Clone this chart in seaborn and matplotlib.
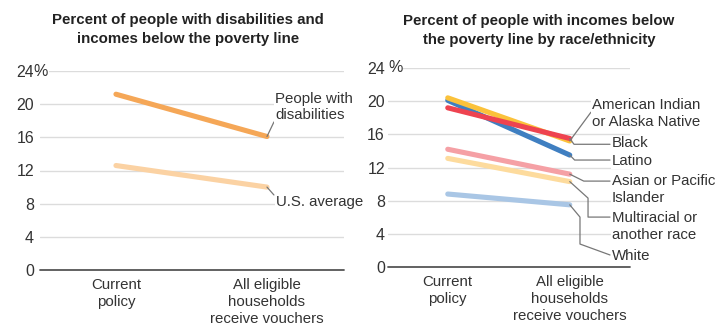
import matplotlib
matplotlib.use("Agg")
import matplotlib.pyplot as plt
import seaborn as sns
import pandas as pd

# ---- data ----
scenarios = ["Current\npolicy", "All eligible\nhouseholds\nreceive vouchers"]

left_groups = ["U.S. average", "People with disabilities"]
us_average = [12.6, 10.0]
disabilities = [21.2, 16.1]

right_groups = ["White", "Multiracial or another race", "Asian or Pacific Islander",
                "Latino", "American Indian or Alaska Native", "Black"]
white = [8.8, 7.5]
multiracial = [13.1, 10.3]
asian_pi = [14.2, 11.2]
latino = [20.1, 13.5]
american_indian = [20.4, 15.2]
black = [19.2, 15.5]

yticks = [0, 4, 8, 12, 16, 20, 24]

left_title = "Percent of people with disabilities and\nincomes below the poverty line"
right_title = "Percent of people with incomes below\nthe poverty line by race/ethnicity"

left_colors = {"U.S. average": "#fbd2a3", "People with disabilities": "#f5a757"}
right_colors = {"White": "#a9c6e5", "Multiracial or another race": "#fddb9d",
                "Asian or Pacific Islander": "#f5a0a5", "Latino": "#3f7fc1",
                "American Indian or Alaska Native": "#fbc23b", "Black": "#ee4350"}

left_series = {"U.S. average": us_average, "People with disabilities": disabilities}
right_series = {"White": white, "Multiracial or another race": multiracial,
                "Asian or Pacific Islander": asian_pi, "Latino": latino,
                "American Indian or Alaska Native": american_indian, "Black": black}


def long_df(series):
    rows = []
    for g, vals in series.items():
        for s, v in zip(scenarios, vals):
            rows.append({"scenario": s, "value": v, "group": g})
    return pd.DataFrame(rows)


sns.set_theme(style="white")
FONT = ["Liberation Sans", "DejaVu Sans"]
plt.rcParams["font.family"] = FONT
TXT = "#333333"
FS = 10.8      # labels
FT = 11.5      # tick labels

fig = plt.figure(figsize=(7.28, 3.30), dpi=100)
axL = fig.add_axes([40 / 728, 60 / 330, 304 / 728, 199 / 330])
axR = fig.add_axes([388 / 728, 63 / 330, 242 / 728, 199 / 330])


def style_axis(ax, xlim, ypad, pct_x):
    ax.set_xlim(*xlim)
    ax.set_ylim(0, 24)
    ax.set_yticks(yticks)
    ax.set_yticklabels([str(t) for t in yticks])
    for t in yticks[1:]:
        ax.axhline(t, color="#dcdcdc", lw=1.0, zorder=0)
    ax.axhline(0, color="#555555", lw=1.3, zorder=1, clip_on=False)
    for s in ax.spines.values():
        s.set_visible(False)
    ax.tick_params(axis="y", length=0, labelsize=FT, labelcolor=TXT, pad=ypad)
    ax.tick_params(axis="x", direction="in", length=4, width=1.2, color="#555555",
                   labelsize=FS, labelcolor=TXT, pad=5.5)
    ax.set_xlabel("")
    ax.set_ylabel("")
    ax.grid(False)
    for lab in ax.get_xticklabels():
        lab.set_linespacing(1.27)
        lab.set_verticalalignment("top")
    ax.text(pct_x, 24, "%", transform=ax.get_yaxis_transform(), ha="left",
            va="center", fontsize=FT, color=TXT, clip_on=False, zorder=5,
            bbox=dict(facecolor="white", edgecolor="none", pad=0.6))


# ---- left panel ----
dfL = long_df(left_series)
sns.lineplot(data=dfL, x="scenario", y="value", hue="group", hue_order=left_groups,
             palette=left_colors, linewidth=3.7, legend=False, ax=axL,
             solid_capstyle="round", sort=False)
style_axis(axL, (-0.503, 1.51), 4.3, -0.021)

lead = dict(color="#777777", lw=0.9, clip_on=False, zorder=3)
axL.plot([1.0, 1.046], [disabilities[1], 17.85], **lead)
axL.plot([1.0, 1.046], [us_average[1], 9.05], **lead)
lab_kw = dict(ha="left", va="center", fontsize=FS, color=TXT, linespacing=1.26,
              clip_on=False, zorder=4,
              bbox=dict(facecolor="white", edgecolor="none", pad=0.5))
axL.text(1.053, 19.66, "People with\ndisabilities", **lab_kw)
axL.text(1.06, 8.2, "U.S. average", **lab_kw)

# ---- right panel ----
dfR = long_df(right_series)
sns.lineplot(data=dfR, x="scenario", y="value", hue="group", hue_order=right_groups,
             palette=right_colors, linewidth=3.7, legend=False, ax=axR,
             solid_capstyle="round", sort=False)
style_axis(axR, (-0.49, 1.494), 2.2, 0.0)

axR.plot([1.0, 1.174], [american_indian[1], 18.67], **lead)
axR.plot([1.0, 1.035, 1.33], [black[1], 14.8, 14.8], **lead)
axR.plot([1.0, 1.04, 1.33], [latino[1], 12.9, 12.9], **lead)
axR.plot([1.0, 1.115, 1.33], [asian_pi[1], 10.36, 10.36], **lead)
axR.plot([1.0, 1.15, 1.15, 1.33], [multiracial[1], 8.31, 6.02, 6.02], **lead)
axR.plot([1.0, 1.084, 1.084, 1.33], [white[1], 6.02, 2.77, 1.45], **lead)

axR.text(1.182, 18.55, "American Indian\nor Alaska Native", **lab_kw)
axR.text(1.346, 14.9, "Black", **lab_kw)
axR.text(1.346, 12.77, "Latino", **lab_kw)
axR.text(1.346, 9.34, "Asian or Pacific\nIslander", **lab_kw)
axR.text(1.346, 4.88, "Multiracial or\nanother race", **lab_kw)
axR.text(1.346, 1.33, "White", **lab_kw)

# ---- titles ----
fig.text(188 / 728, 1 - 29.5 / 330, left_title, ha="center", va="center", fontsize=10.8,
         fontweight="bold", color="#222222", linespacing=1.4)
fig.text(539 / 728, 1 - 30.5 / 330, right_title, ha="center", va="center", fontsize=10.8,
         fontweight="bold", color="#222222", linespacing=1.4)

fig.savefig("out.png", dpi=100, facecolor="white")
